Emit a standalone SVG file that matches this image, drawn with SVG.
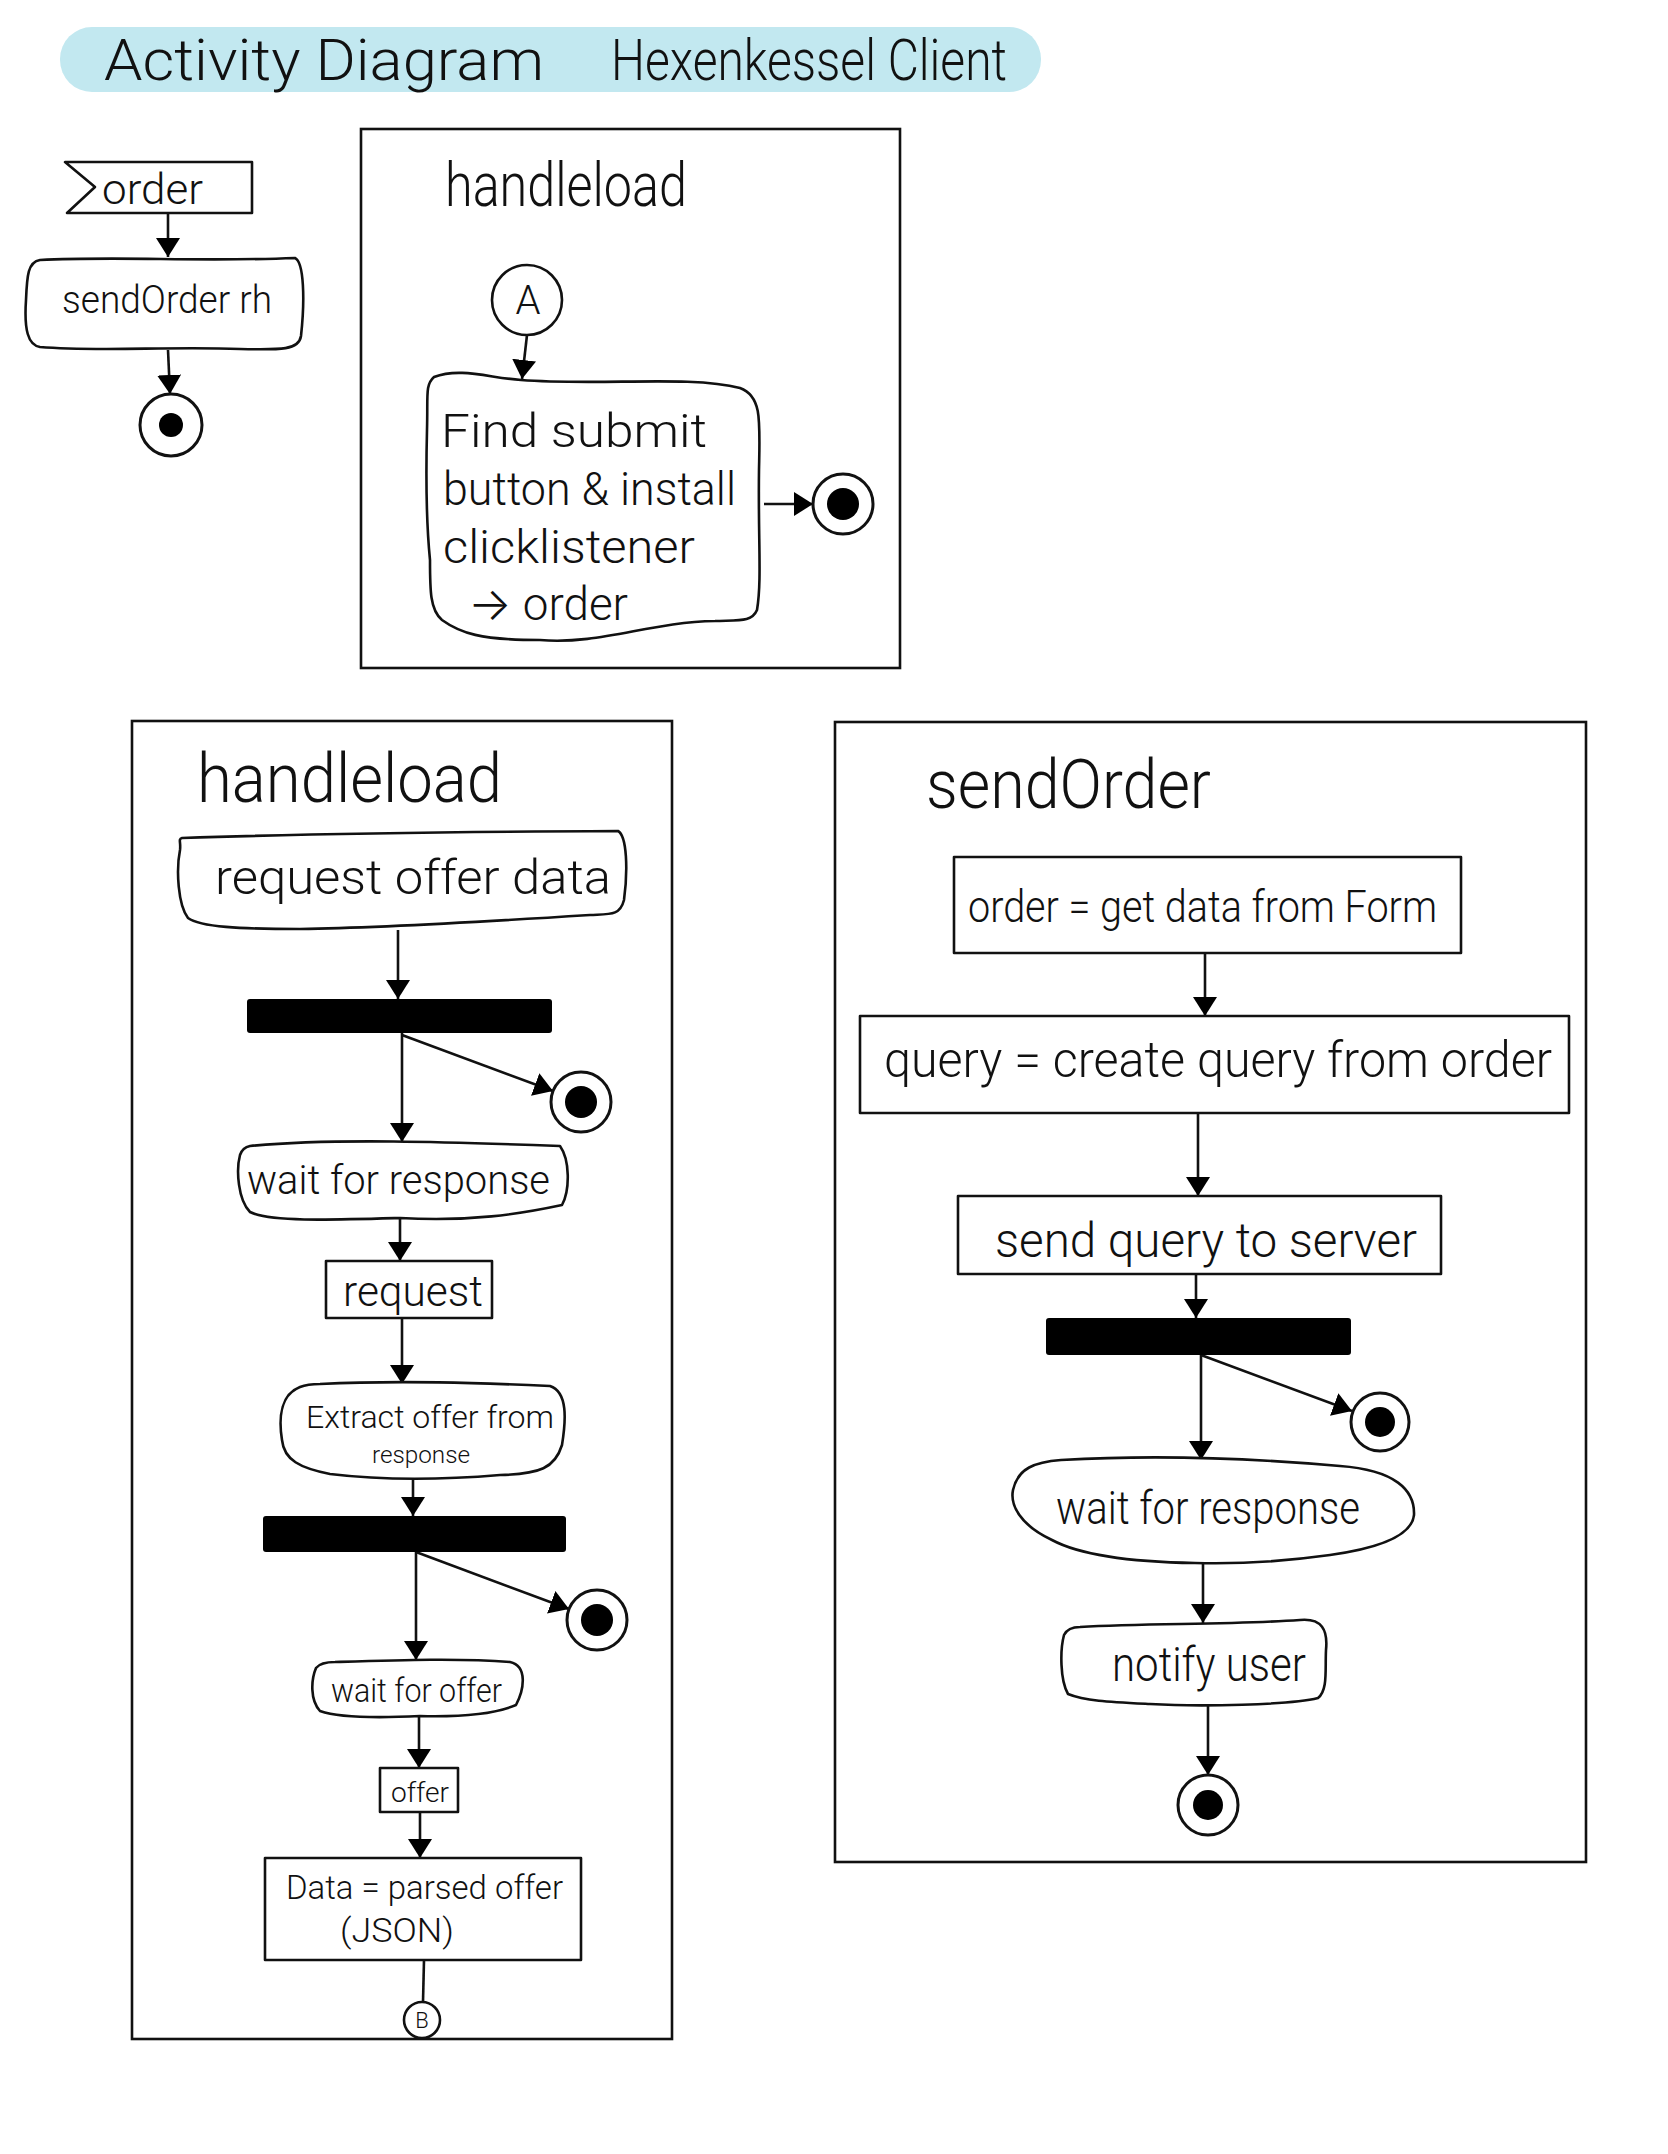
<svg xmlns="http://www.w3.org/2000/svg" width="1668" height="2154" viewBox="0 0 1668 2154">
<style>
  .t { font-family: "Roboto", "Inter", "DejaVu Sans", sans-serif; font-weight: 300; fill: #111; }
  .shape { fill: #fff; stroke: #111; stroke-width: 2.6; stroke-linejoin: round; }
  .frame { fill: none; stroke: #111; stroke-width: 2.6; }
  .bar { fill: #000; }
  .conn { fill: none; stroke: #111; stroke-width: 2.6; }
  .arr { marker-end: url(#arrow); }
  .endo { fill: #fff; stroke: #111; stroke-width: 3; }
  .endi { fill: #000; }
</style>
<defs>
  <marker id="arrow" viewBox="0 0 19 24" refX="19" refY="12" markerWidth="19" markerHeight="24" markerUnits="userSpaceOnUse" orient="auto">
    <path d="M0,0 L19,12 L0,24 Z" fill="#000"/>
  </marker>
</defs>
<rect width="1668" height="2154" fill="#fff"/>

<g id="title">
  <rect x="60" y="27" width="981" height="65" rx="32" fill="#c2e8f0"/>
  <text class="t" x="104" y="80" font-size="58" textLength="440" lengthAdjust="spacingAndGlyphs">Activity Diagram</text>
  <text class="t" x="611" y="80" font-size="58" textLength="396" lengthAdjust="spacingAndGlyphs">Hexenkessel Client</text>
</g>

<!-- frames -->
<g id="frame-handleload-top">
  <rect class="frame" x="361" y="129" width="539" height="539"/>
  <text class="t" x="445" y="206" font-size="62" textLength="242" lengthAdjust="spacingAndGlyphs">handleload</text>
</g>
<g id="frame-handleload-bottom">
  <rect class="frame" x="132" y="721" width="540" height="1318"/>
  <text class="t" x="197" y="802" font-size="68" textLength="305" lengthAdjust="spacingAndGlyphs">handleload</text>
</g>
<g id="frame-sendOrder">
  <rect class="frame" x="835" y="722" width="751" height="1140"/>
  <text class="t" x="926" y="808" font-size="68" textLength="285" lengthAdjust="spacingAndGlyphs">sendOrder</text>
</g>

<!-- connectors -->
<g id="connectors">
  <line class="conn arr" x1="168" y1="214" x2="168" y2="257"/>
  <line class="conn arr" x1="168" y1="350" x2="170" y2="394"/>
  <line class="conn arr" x1="527" y1="335" x2="522" y2="379"/>
  <line class="conn arr" x1="764" y1="504" x2="813" y2="504"/>
  <line class="conn arr" x1="398" y1="930" x2="398" y2="999"/>
  <line class="conn arr" x1="402" y1="1033" x2="402" y2="1142"/>
  <line class="conn arr" x1="402" y1="1035" x2="553" y2="1091"/>
  <line class="conn arr" x1="400" y1="1219" x2="400" y2="1261"/>
  <line class="conn arr" x1="402" y1="1318" x2="402" y2="1384"/>
  <line class="conn arr" x1="413" y1="1479" x2="413" y2="1516"/>
  <line class="conn arr" x1="416" y1="1552" x2="416" y2="1660"/>
  <line class="conn arr" x1="416" y1="1552" x2="569" y2="1609"/>
  <line class="conn arr" x1="419" y1="1717" x2="419" y2="1768"/>
  <line class="conn arr" x1="420" y1="1812" x2="420" y2="1858"/>
  <line class="conn" x1="424" y1="1960" x2="423" y2="2002"/>
  <line class="conn arr" x1="1205" y1="953" x2="1205" y2="1016"/>
  <line class="conn arr" x1="1198" y1="1113" x2="1198" y2="1196"/>
  <line class="conn arr" x1="1196" y1="1274" x2="1196" y2="1318"/>
  <line class="conn arr" x1="1201" y1="1355" x2="1201" y2="1460"/>
  <line class="conn arr" x1="1201" y1="1355" x2="1352" y2="1411"/>
  <line class="conn arr" x1="1203" y1="1563" x2="1203" y2="1623"/>
  <line class="conn arr" x1="1208" y1="1705" x2="1208" y2="1775"/>
</g>

<!-- top-left -->
<g id="signal-order">
  <polygon class="shape" points="65,162 252,162 252,213 67,213 95,187"/>
  <text class="t" x="102" y="204" font-size="42" textLength="101" lengthAdjust="spacingAndGlyphs">order</text>
</g>
<g id="act-sendOrder-call">
  <path class="shape" d="M40,260 C120,256 200,262 295,258 C304,262 305,300 301,336 C299,350 282,350 240,349 C170,346 100,352 40,347 C28,345 24,330 26,300 C27,275 28,262 40,260 Z"/>
  <text class="t" x="62" y="313" font-size="38" textLength="210" lengthAdjust="spacingAndGlyphs">sendOrder rh</text>
</g>
<g id="final-1">
  <circle class="endo" cx="171" cy="425" r="31"/>
  <circle class="endi" cx="171" cy="425" r="12"/>
</g>

<!-- top handleload -->
<g id="connector-A">
  <circle class="shape" cx="527" cy="300" r="35"/>
  <text class="t" x="528" y="314" font-size="40" text-anchor="middle">A</text>
</g>
<g id="act-find-submit">
  <path class="shape" d="M434,377 C460,367 490,378 521,380 C600,386 690,375 740,388 C762,396 760,420 759,470 C758,540 762,580 757,610 C752,622 740,620 715,621 C650,622 600,645 540,640 C480,640 460,633 442,620 C430,610 430,590 430,560 C426,520 426,470 427,430 C428,395 425,385 434,377 Z"/>
  <text class="t" x="441" y="447" font-size="46" textLength="266" lengthAdjust="spacingAndGlyphs">Find  submit</text>
  <text class="t" x="443" y="505" font-size="46" textLength="293" lengthAdjust="spacingAndGlyphs">button &amp; install</text>
  <text class="t" x="443" y="563" font-size="46" textLength="252" lengthAdjust="spacingAndGlyphs">clicklistener</text>
  <text class="t" x="468" y="620" font-size="46" textLength="160" lengthAdjust="spacingAndGlyphs">→ order</text>
</g>
<g id="final-2">
  <circle class="endo" cx="843" cy="504" r="30"/>
  <circle class="endi" cx="843" cy="504" r="16"/>
</g>

<!-- bottom handleload -->
<g id="act-request-offer">
  <path class="shape" d="M182,838 C300,834 420,832 618,831 C627,836 628,870 624,900 C620,916 610,914 590,915 C480,922 380,928 300,929 C240,929 200,927 188,918 C178,905 176,870 180,850 C181,842 178,839 182,838 Z"/>
  <text class="t" x="215" y="894" font-size="48" textLength="396" lengthAdjust="spacingAndGlyphs">request offer data</text>
</g>
<g id="fork-1"><rect class="bar" x="247" y="999" width="305" height="34" rx="3"/></g>
<g id="final-3">
  <circle class="endo" cx="581" cy="1102" r="30"/>
  <circle class="endi" cx="581" cy="1102" r="16"/>
</g>
<g id="act-wait-response-1">
  <path class="shape" d="M250,1146 C330,1138 450,1142 560,1146 C570,1160 570,1190 562,1205 C520,1214 470,1222 400,1218 C330,1220 270,1222 250,1212 C238,1200 236,1170 240,1155 C242,1149 245,1147 250,1146 Z"/>
  <text class="t" x="247" y="1194" font-size="40" textLength="303" lengthAdjust="spacingAndGlyphs">wait for response</text>
</g>
<g id="obj-request">
  <rect class="shape" x="326" y="1261" width="166" height="57"/>
  <text class="t" x="343" y="1306" font-size="42" textLength="140" lengthAdjust="spacingAndGlyphs">request</text>
</g>
<g id="act-extract-offer">
  <path class="shape" d="M320,1384 C400,1380 480,1383 550,1386 C568,1392 566,1420 562,1445 C555,1468 540,1474 500,1475 C440,1480 380,1480 330,1474 C300,1468 284,1460 282,1440 C278,1415 282,1394 300,1387 C305,1385 312,1384 320,1384 Z"/>
  <text class="t" x="306" y="1428" font-size="31" textLength="248" lengthAdjust="spacingAndGlyphs">Extract  offer from</text>
  <text class="t" x="372" y="1463" font-size="24" textLength="98" lengthAdjust="spacingAndGlyphs">response</text>
</g>
<g id="fork-2"><rect class="bar" x="263" y="1516" width="303" height="36" rx="3"/></g>
<g id="final-4">
  <circle class="endo" cx="597" cy="1620" r="30"/>
  <circle class="endi" cx="597" cy="1620" r="16"/>
</g>
<g id="act-wait-offer">
  <path class="shape" d="M335,1662 C400,1660 460,1658 510,1662 C528,1666 524,1690 516,1705 C495,1714 460,1717 420,1716 C380,1718 340,1718 320,1711 C310,1700 311,1680 316,1668 C320,1663 327,1662 335,1662 Z"/>
  <text class="t" x="331" y="1702" font-size="34" textLength="171" lengthAdjust="spacingAndGlyphs">wait for offer</text>
</g>
<g id="obj-offer">
  <rect class="shape" x="380" y="1768" width="78" height="44"/>
  <text class="t" x="391" y="1802" font-size="27" textLength="58" lengthAdjust="spacingAndGlyphs">offer</text>
</g>
<g id="act-parse-data">
  <rect class="shape" x="265" y="1858" width="316" height="102"/>
  <text class="t" x="286" y="1899" font-size="34" textLength="277" lengthAdjust="spacingAndGlyphs">Data = parsed offer</text>
  <text class="t" x="340" y="1942" font-size="34" textLength="114" lengthAdjust="spacingAndGlyphs">(JSON)</text>
</g>
<g id="connector-B">
  <circle class="shape" cx="422" cy="2020" r="18"/>
  <text class="t" x="422" y="2028" font-size="22" text-anchor="middle">B</text>
</g>

<!-- sendOrder -->
<g id="act-get-order">
  <rect class="shape" x="954" y="857" width="507" height="96"/>
  <text class="t" x="968" y="922" font-size="44" textLength="469" lengthAdjust="spacingAndGlyphs">order = get data from Form</text>
</g>
<g id="act-create-query">
  <rect class="shape" x="860" y="1016" width="709" height="97"/>
  <text class="t" x="884" y="1077" font-size="50" textLength="668" lengthAdjust="spacingAndGlyphs">query = create query from order</text>
</g>
<g id="act-send-query">
  <rect class="shape" x="958" y="1196" width="483" height="78"/>
  <text class="t" x="995" y="1257" font-size="48" textLength="422" lengthAdjust="spacingAndGlyphs">send query to server</text>
</g>
<g id="fork-3"><rect class="bar" x="1046" y="1318" width="305" height="37" rx="3"/></g>
<g id="final-5">
  <circle class="endo" cx="1380" cy="1422" r="29"/>
  <circle class="endi" cx="1380" cy="1422" r="15"/>
</g>
<g id="act-wait-response-2">
  <path class="shape" d="M1061,1460 C1150,1455 1250,1458 1340,1466 C1395,1470 1415,1490 1414,1515 C1412,1535 1380,1548 1330,1555 C1280,1562 1230,1564 1195,1563 C1130,1562 1080,1555 1052,1540 C1020,1525 1010,1505 1013,1490 C1018,1468 1035,1462 1061,1460 Z"/>
  <text class="t" x="1056" y="1524" font-size="46" textLength="304" lengthAdjust="spacingAndGlyphs">wait for response</text>
</g>
<g id="act-notify-user">
  <path class="shape" d="M1080,1627 C1150,1623 1230,1625 1300,1620 C1322,1618 1328,1630 1326,1650 C1325,1670 1328,1690 1318,1698 C1290,1705 1200,1707 1150,1704 C1110,1702 1085,1701 1068,1694 C1060,1680 1060,1650 1064,1635 C1067,1629 1072,1627 1080,1627 Z"/>
  <text class="t" x="1112" y="1681" font-size="48" textLength="194" lengthAdjust="spacingAndGlyphs">notify user</text>
</g>
<g id="final-6">
  <circle class="endo" cx="1208" cy="1805" r="30"/>
  <circle class="endi" cx="1208" cy="1805" r="15"/>
</g>
</svg>
